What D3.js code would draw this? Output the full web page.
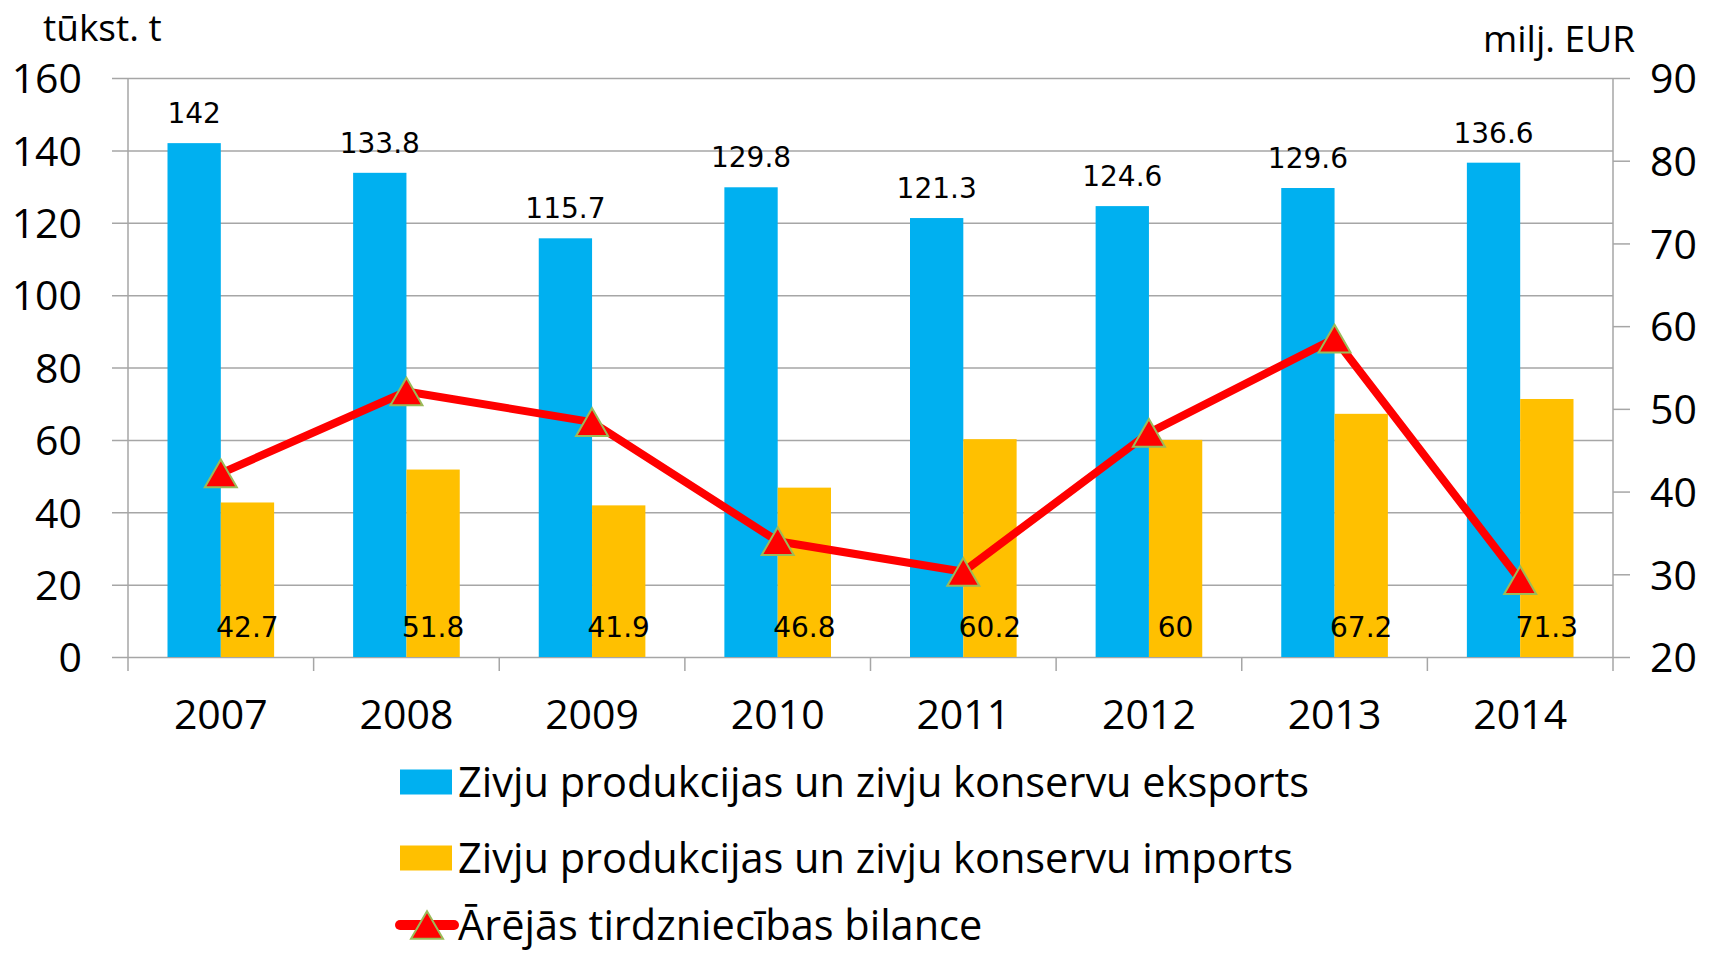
<html>
<head>
<meta charset='UTF-8'>
<title>Zivju produkcijas tirdzniecība</title>
<script src='https://d3js.org/d3.v7.min.js'></script>
<style>
    body { margin: 0; background: #fff; }
    .tick text { fill: #000; }
</style>
</head>

<body>
    <div id='chart'></div>

    <script type='text/javascript'>
        // data
        var years = ['2007', '2008', '2009', '2010', '2011', '2012', '2013', '2014'];
        var exportValues = [142, 133.8, 115.7, 129.8, 121.3, 124.6, 129.6, 136.6];
        var importValues = [42.7, 51.8, 41.9, 46.8, 60.2, 60, 67.2, 71.3];
        var balanceValues = [42.2, 52.1, 48.4, 34.0, 30.3, 47.1, 58.5, 29.3];
        var leftTicks = [0, 20, 40, 60, 80, 100, 120, 140, 160];
        var rightTicks = [20, 30, 40, 50, 60, 70, 80, 90];
        var seriesNames = ['Zivju produkcijas un zivju konservu eksports',
                           'Zivju produkcijas un zivju konservu imports',
                           'Ārējās tirdzniecības bilance'];

        var width = 1712,
            height = 954;

        var plot = {left: 128, right: 1613, top: 78, bottom: 657};

        var blue = '#00b0f0',
            orange = '#ffc000',
            red = '#ff0000',
            markerEdge = '#9bbb59',
            gridColor = '#a6a6a6';

        var axisFont = "'Open Sans', sans-serif",
            labelFont = "'DejaVu Sans', sans-serif";

        var svg = d3.select('#chart').append('svg')
                    .attr('width', width)
                    .attr('height', height);

        var x0 = d3.scaleBand()
                   .domain(years)
                   .range([plot.left, plot.right])
                   .padding(0);

        var x1 = d3.scaleBand()
                   .domain(['exp', 'imp'])
                   .range([39.5, x0.bandwidth() - 39.5]);

        var yL = d3.scaleLinear().domain([0, 160]).range([plot.bottom, plot.top]);
        var yR = d3.scaleLinear().domain([20, 90]).range([plot.bottom, plot.top]);

        // left axis: gridlines + labels
        var gridSize = plot.right - plot.left + 16;
        var leftAxis = svg.append('g')
            .attr('transform', 'translate(' + plot.right + ',0)')
            .call(d3.axisLeft(yL).tickValues(leftTicks).tickSize(gridSize).tickPadding(30));
        leftAxis.select('.domain').remove();
        leftAxis.selectAll('line').attr('stroke', gridColor).attr('stroke-width', 1.5);
        leftAxis.selectAll('text')
            .style('font-family', axisFont)
            .style('font-size', '41px')
            .attr('dy', '0.36em');

        // right axis
        var rightAxis = svg.append('g')
            .attr('transform', 'translate(' + plot.right + ',0)')
            .call(d3.axisRight(yR).tickValues(rightTicks).tickSize(17).tickPadding(20));
        rightAxis.select('.domain').remove();
        rightAxis.selectAll('line').attr('stroke', gridColor).attr('stroke-width', 1.5);
        rightAxis.selectAll('text')
            .style('font-family', axisFont)
            .style('font-size', '41px')
            .attr('dy', '0.36em');

        // vertical axis lines
        [plot.left, plot.right].forEach(function(xp) {
            svg.append('line')
               .attr('x1', xp).attr('x2', xp)
               .attr('y1', plot.top).attr('y2', plot.bottom + 14)
               .attr('stroke', gridColor)
               .attr('stroke-width', 1.5);
        });

        // category tick marks
        svg.append('g')
           .selectAll('line')
           .data(years.slice(1))
           .enter().append('line')
             .attr('x1', function(d) { return x0(d); })
             .attr('x2', function(d) { return x0(d); })
             .attr('y1', plot.bottom)
             .attr('y2', plot.bottom + 14)
             .attr('stroke', gridColor)
             .attr('stroke-width', 1.5);

        // x labels
        var bottomAxis = svg.append('g')
            .attr('transform', 'translate(0,' + plot.bottom + ')')
            .call(d3.axisBottom(x0).tickSize(0).tickPadding(43));
        bottomAxis.select('.domain').remove();
        bottomAxis.selectAll('text')
            .style('font-family', axisFont)
            .style('font-size', '41px');

        // bars
        var groups = svg.append('g')
            .selectAll('g')
            .data(years)
            .enter().append('g')
              .attr('transform', function(d) { return 'translate(' + x0(d) + ',0)'; });

        groups.append('rect')
              .attr('x', x1('exp'))
              .attr('width', x1.bandwidth())
              .attr('y', function(d, i) { return yL(exportValues[i]); })
              .attr('height', function(d, i) { return plot.bottom - yL(exportValues[i]); })
              .attr('fill', blue);

        groups.append('rect')
              .attr('x', x1('imp'))
              .attr('width', x1.bandwidth())
              .attr('y', function(d, i) { return yL(importValues[i]); })
              .attr('height', function(d, i) { return plot.bottom - yL(importValues[i]); })
              .attr('fill', orange);

        // bar labels
        groups.append('text')
              .attr('x', x1('exp') + x1.bandwidth() / 2)
              .attr('y', function(d, i) { return yL(exportValues[i]) - 20; })
              .attr('text-anchor', 'middle')
              .style('font-family', labelFont)
              .style('font-size', '28px')
              .text(function(d, i) { return exportValues[i]; });

        groups.append('text')
              .attr('x', x1('imp') + x1.bandwidth() / 2)
              .attr('y', plot.bottom - 20)
              .attr('text-anchor', 'middle')
              .style('font-family', labelFont)
              .style('font-size', '28px')
              .text(function(d, i) { return importValues[i]; });

        // balance line
        var cx = function(d, i) { return x0(years[i]) + x0.bandwidth() / 2; };
        var line = d3.line()
                     .x(cx)
                     .y(function(d) { return yR(d); });

        svg.append('path')
           .datum(balanceValues)
           .attr('d', line)
           .attr('fill', 'none')
           .attr('stroke', red)
           .attr('stroke-width', 8)
           .attr('stroke-linejoin', 'round');

        var triSize = 443;
        var triR = Math.sqrt(triSize / (3 * Math.sqrt(3)));
        var triangle = d3.symbol().type(d3.symbolTriangle).size(triSize);

        svg.append('g')
           .selectAll('path')
           .data(balanceValues)
           .enter().append('path')
             .attr('d', triangle)
             .attr('transform', function(d, i) {
                 return 'translate(' + cx(d, i) + ',' + (yR(d) + triR / 2) + ')';
             })
             .attr('fill', red)
             .attr('stroke', markerEdge)
             .attr('stroke-width', 2);

        // axis titles
        svg.append('text')
           .attr('x', 43)
           .attr('y', 41)
           .style('font-family', axisFont)
           .style('font-size', '37px')
           .text('tūkst. t');

        svg.append('text')
           .attr('x', 1635)
           .attr('y', 52)
           .attr('text-anchor', 'end')
           .style('font-family', axisFont)
           .style('font-size', '37px')
           .text('milj. EUR');

        // legend
        var legendRows = [782, 858, 925];
        var legend = svg.append('g');

        legend.append('rect')
              .attr('x', 400).attr('y', legendRows[0] - 12.5)
              .attr('width', 52).attr('height', 25)
              .attr('fill', blue);
        legend.append('rect')
              .attr('x', 400).attr('y', legendRows[1] - 12.5)
              .attr('width', 52).attr('height', 25)
              .attr('fill', orange);
        legend.append('line')
              .attr('x1', 400).attr('x2', 454)
              .attr('y1', legendRows[2]).attr('y2', legendRows[2])
              .attr('stroke', red)
              .attr('stroke-width', 10)
              .attr('stroke-linecap', 'round');
        legend.append('path')
              .attr('d', triangle)
              .attr('transform', 'translate(427,' + (legendRows[2] + triR / 2) + ')')
              .attr('fill', red)
              .attr('stroke', markerEdge)
              .attr('stroke-width', 2);

        legend.selectAll('text.legendLabel')
              .data(seriesNames)
              .enter().append('text')
                .attr('class', 'legendLabel')
                .attr('x', 458)
                .attr('y', function(d, i) { return legendRows[i] + 15; })
                .style('font-family', axisFont)
                .style('font-size', '41.5px')
                .text(function(d) { return d; });
    </script>
</body>
</html>
